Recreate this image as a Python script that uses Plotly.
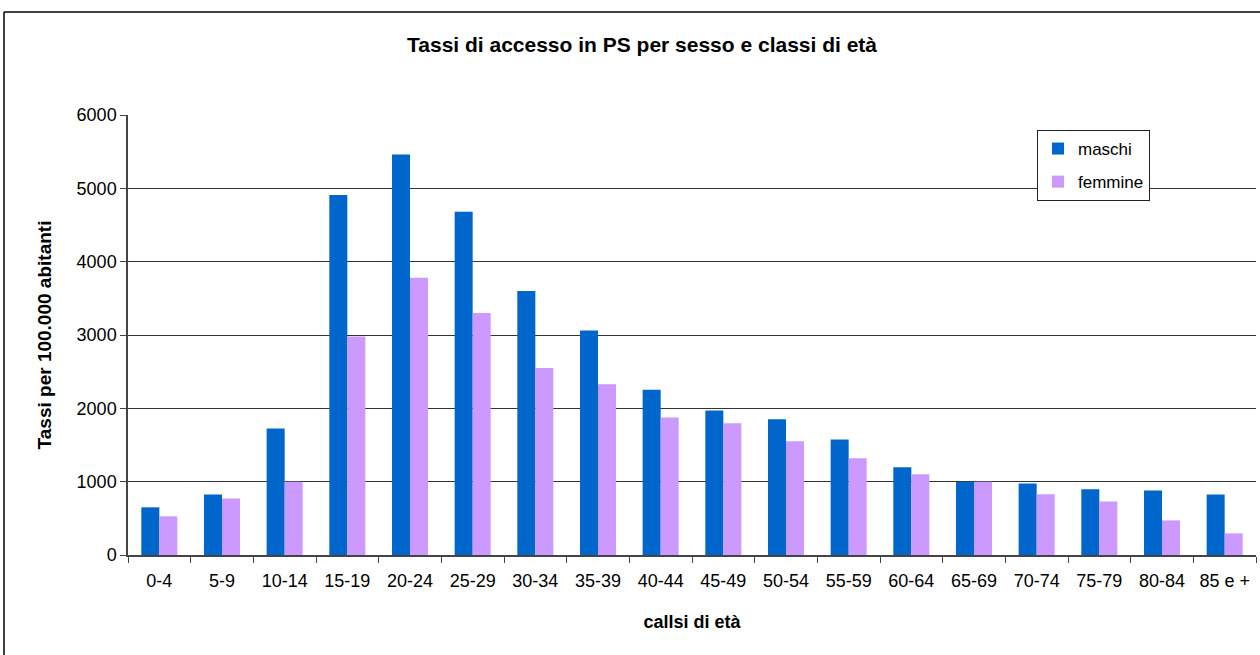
import plotly.graph_objects as go

categories = ["0-4", "5-9", "10-14", "15-19", "20-24", "25-29", "30-34", "35-39", "40-44",
              "45-49", "50-54", "55-59", "60-64", "65-69", "70-74", "75-79", "80-84", "85 e +"]
maschi = [650, 825, 1725, 4910, 5460, 4680, 3600, 3060, 2255,
          1970, 1850, 1575, 1195, 1000, 975, 895, 880, 825]
femmine = [527, 772, 1000, 2980, 3780, 3300, 2550, 2330, 1875,
           1795, 1550, 1318, 1100, 1000, 827, 731, 472, 295]

title_text = "Tassi di accesso in PS per sesso e classi di età"
y_title = "Tassi per 100.000 abitanti"
x_title = "callsi di età"

FONT = "Liberation Sans, Arial, sans-serif"

L, R, T, B = 128, 4, 115, 100
W, H = 1260, 655
pw = W - L - R
ph = H - T - B

def px_x(x):
    return (x - L) / pw

def px_y(y):
    return (H - B - y) / ph

fig = go.Figure()
fig.add_trace(go.Bar(x=categories, y=maschi, name="maschi", marker_color="#0066CC",
                     marker_line_width=0, legendgroup="m"))
fig.add_trace(go.Bar(x=categories, y=femmine, name="femmine", marker_color="#CC99FF",
                     marker_line_width=0, legendgroup="f"))

fig.update_layout(
    width=W, height=H,
    margin=dict(l=L, r=R, t=T, b=B),
    paper_bgcolor="white", plot_bgcolor="white",
    font=dict(family=FONT, size=18, color="black"),
    barmode="group", bargap=0.425, bargroupgap=0,
    showlegend=True,
    legend=dict(x=px_x(1037), y=px_y(130), xanchor="left", yanchor="top",
                bgcolor="white", bordercolor="#222222", borderwidth=1,
                font=dict(family=FONT, size=17, color="black"),
                tracegroupgap=8, traceorder="grouped",
                itemwidth=30),
    xaxis=dict(
        type="category", showgrid=False, showline=True, linecolor="#444444", linewidth=1.5,
        ticks="outside", tickson="boundaries", ticklen=6, tickcolor="#444444",
        ticklabelstandoff=9,
        tickfont=dict(family=FONT, size=18, color="black"),
        title=dict(text="<b>" + x_title + "</b>", standoff=25,
                   font=dict(family=FONT, size=18, color="black")),
    ),
    yaxis=dict(
        range=[0, 6000], dtick=1000, showgrid=True, gridcolor="#333333", gridwidth=1,
        showline=True, linecolor="#444444", linewidth=1.5,
        ticks="outside", ticklen=6, tickcolor="#444444",
        tickfont=dict(family=FONT, size=18, color="black"),
        title=dict(text="<b>" + y_title + "</b>", standoff=20,
                   font=dict(family=FONT, size=19, color="black")),
        zeroline=False,
    ),
    annotations=[dict(text="<b>" + title_text + "</b>", xref="paper", yref="paper",
                      x=px_x(642), y=px_y(45), xanchor="center", yanchor="middle",
                      showarrow=False, font=dict(family=FONT, size=21, color="black"))],
    shapes=[
        dict(type="line", xref="paper", yref="paper", x0=px_x(4), x1=px_x(1300),
             y0=px_y(12), y1=px_y(12), line=dict(color="black", width=1.5)),
        dict(type="line", xref="paper", yref="paper", x0=px_x(4), x1=px_x(4),
             y0=px_y(12), y1=px_y(700), line=dict(color="black", width=1.5)),
    ],
)

fig.write_html("out.html", config={"displayModeBar": False},
               post_script="document.body.style.margin='0';document.body.style.overflow='hidden';")
